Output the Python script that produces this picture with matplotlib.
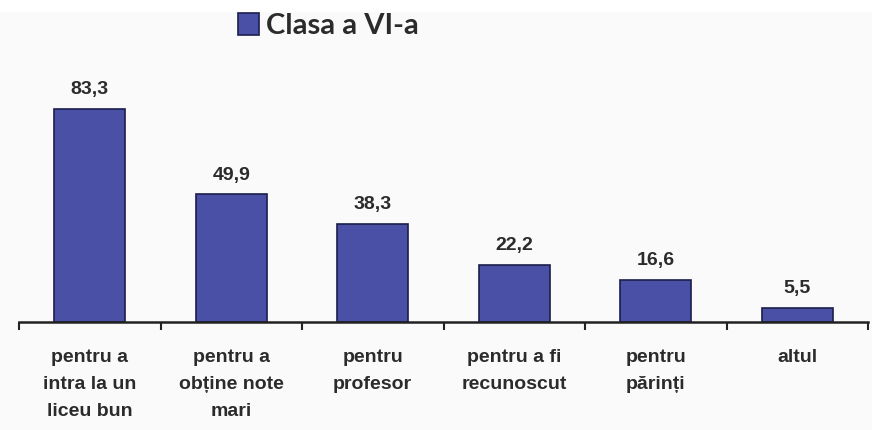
import matplotlib
matplotlib.use("Agg")
import matplotlib.pyplot as plt
from matplotlib.patches import Rectangle

categories = ["pentru a\nintra la un\nliceu bun", "pentru a\nobține note\nmari", "pentru\nprofesor",
              "pentru a fi\nrecunoscut", "pentru\npărinți", "altul"]
values = [83.3, 49.9, 38.3, 22.2, 16.6, 5.5]
value_labels = ["83,3", "49,9", "38,3", "22,2", "16,6", "5,5"]
series_name = "Clasa a VI-a"

bar_color = "#4a50a6"
edge_color = "#1c1e4a"
text_color = "#2b2b2b"
bg = "#fafafa"

fig = plt.figure(figsize=(8.72, 4.31), dpi=100, facecolor=bg)
# white strip at the very top (cropped caption area)
fig.patches.append(Rectangle((0, 1 - 13/431), 1, 13/431, transform=fig.transFigure,
                             facecolor="white", edgecolor="none"))

ax = fig.add_axes([19/872, (431-323)/431, 849/872, 230/431])
ax.set_facecolor(bg)

x = list(range(len(categories)))
ax.bar(x, values, width=0.5, color=bar_color, edgecolor=edge_color, linewidth=1.2, zorder=2)
ax.set_xlim(-0.5, len(categories) - 0.5)
ax.set_ylim(0, 90)

for xi, v, lab in zip(x, values, value_labels):
    ax.annotate(lab, (xi, v), xytext=(0, 8.5), textcoords="offset points",
                ha="center", va="bottom", fontsize=14, fontweight="bold",
                color=text_color, family="Liberation Sans")

for s in ["top", "right", "left"]:
    ax.spines[s].set_visible(False)
ax.spines["bottom"].set_linewidth(1.8)
ax.spines["bottom"].set_color("#222222")
ax.set_yticks([])

ax.set_xticks(x)
ax.set_xticklabels(categories, fontsize=14, fontweight="bold", color=text_color,
                   family="Liberation Sans", linespacing=1.78, va="top")
ax.tick_params(axis="x", which="major", length=0, pad=18.5)
ax.set_xticks([i - 0.5 for i in range(len(categories) + 1)], minor=True)
ax.tick_params(axis="x", which="minor", length=6, width=1.5, color="#222222", direction="out")

# legend
fig.patches.append(Rectangle((238/872, 1 - 36/431), 21/872, 22/431, transform=fig.transFigure,
                             facecolor=bar_color, edgecolor=edge_color, linewidth=1.2))
fig.text(266/872, 1 - 26/431, series_name, fontsize=21, fontweight="bold", color=text_color,
         family="Lato", va="center", ha="left")

fig.savefig("out.png", dpi=100, facecolor=bg)
